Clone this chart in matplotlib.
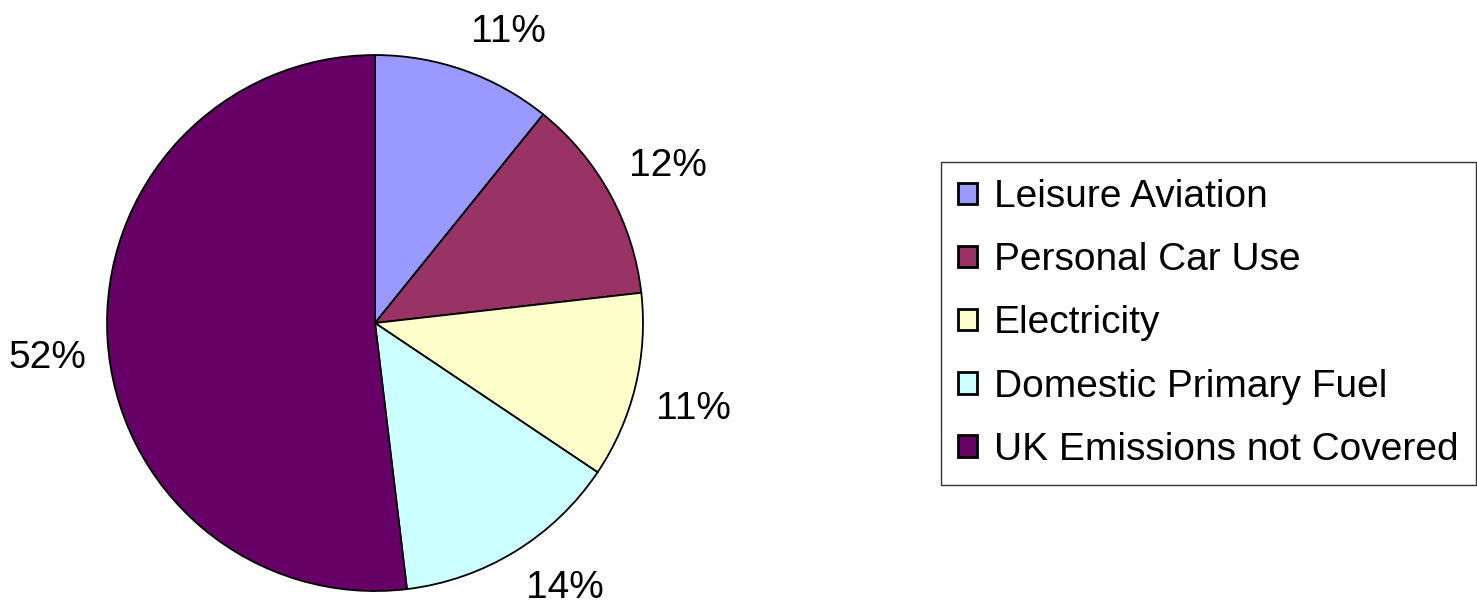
import numpy as np
import matplotlib.pyplot as plt

# Data
categories = ['Leisure Aviation', 'Personal Car Use', 'Electricity',
              'Domestic Primary Fuel', 'UK Emissions not Covered']
shares = [10.8, 12.4, 11.2, 13.7, 51.9]
colors = ['#9999FF', '#993366', '#FFFFCC', '#CCFFFF', '#660066']

plt.rcParams['font.family'] = ['Liberation Sans', 'DejaVu Sans']

fig = plt.figure(figsize=(14.77, 6.15), dpi=100)
ax = fig.add_axes([0.0724, 0.039, 0.363, 0.8715])

wedges, texts = ax.pie(shares, colors=colors, startangle=90, counterclock=False,
                       radius=1.0, labels=[f'{v:.0f}%' for v in shares],
                       labeldistance=1.08,
                       wedgeprops=dict(edgecolor='black', linewidth=1.3))
# Excel-style anchoring: label corner nearest the pie sits on the ring
for w, t in zip(wedges, texts):
    mid = np.deg2rad((w.theta1 + w.theta2) / 2)
    t.set_fontsize(28)
    t.set_horizontalalignment('left' if np.cos(mid) > 0 else 'right')
    t.set_verticalalignment('bottom' if np.sin(mid) > 0 else 'top')
ax.set_xlim(-1, 1)
ax.set_ylim(-1, 1)
ax.set_aspect('equal')

leg = fig.legend(wedges, categories, loc='center left',
                 bbox_to_anchor=(0.637, 0.474), fontsize=28,
                 frameon=True, fancybox=False, shadow=False,
                 handlelength=0.47, handleheight=0.47, handletextpad=0.45,
                 labelspacing=0.7, borderpad=0.45, borderaxespad=0)
leg.get_frame().set_edgecolor('black')
leg.get_frame().set_linewidth(1.0)
for h in leg.legend_handles:
    h.set_linewidth(2)

fig.savefig('out.png', dpi=100)
